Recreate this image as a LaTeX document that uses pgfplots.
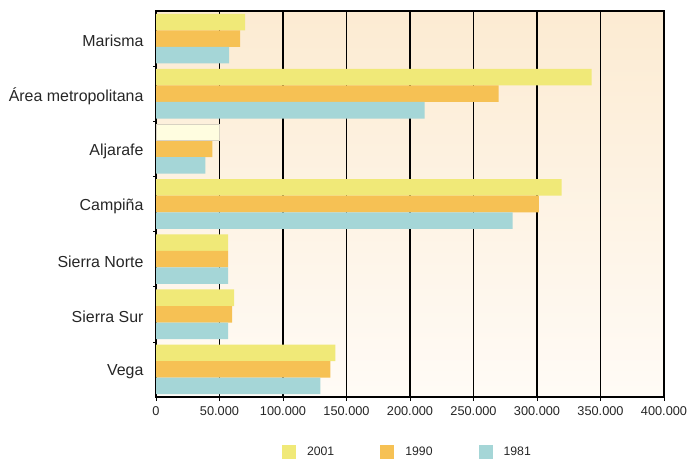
\documentclass[border=0pt]{standalone}
\usepackage{fontspec}
\setmainfont{Liberation Sans}
\usepackage{pgfplots}
\pgfplotsset{compat=1.18}
\usepackage{pgfplotstable}

\definecolor{c2001}{HTML}{F0E978}
\definecolor{c1990}{HTML}{F6C154}
\definecolor{c1981}{HTML}{A5D6D7}
\definecolor{cpale}{HTML}{FFFDE0}
\definecolor{cpaleedge}{HTML}{D8D2C2}
\definecolor{bgtop}{HTML}{FCEBD2}
\definecolor{bgbot}{HTML}{FFFBF6}

\pgfplotstableread{
pos y2001 y1990 y1981
6 70100 66300 57600
5 343000 269700 211500
4 49700 44300 38800
3 319300 301400 280800
2 56800 56800 56800
1 61600 60000 56800
0 141200 137400 129500
}\datatable

\begin{document}
\begin{tikzpicture}
\useasboundingbox (0,0) rectangle (690bp,459bp);
\begin{axis}[
  at={(156bp,62bp)}, anchor=south west,
  scale only axis, width=508bp, height=386bp,
  xbar, bar width=0.3,
  xmin=0, xmax=400000, ymin=-0.5, ymax=6.5,
  xtick={0,50000,100000,150000,200000,250000,300000,350000,400000},
  xticklabels={0,50.000,100.000,150.000,200.000,250.000,300.000,350.000,400.000},
  scaled x ticks=false,
  ytick={0,1,2,3,4,5,6},
  yticklabels={Vega,Sierra Sur,Sierra Norte,Campiña,Aljarafe,Área metropolitana,Marisma},
  minor ytick={0.5,1.5,2.5,3.5,4.5,5.5},
  ytick pos=left, xtick pos=bottom,
  tick align=outside,
  major y tick style={draw=none},
  minor y tick style={black, line width=0.5bp},
  minor tick length=2.5bp,
  major tick length=4bp,
  major x tick style={black, line width=1bp},
  xmajorgrids,
  major x grid style={black, line width=1.2bp},
  axis line style={black, line width=1.6bp},
  axis background/.style={top color=bgtop, bottom color=bgbot},
  yticklabel style={font=\fontsize{16}{18}\selectfont, text=black!85, xshift=-5bp, yshift=-2.5bp},
  xticklabel style={font=\fontsize{12.8}{15}\selectfont, text=black!85, yshift=-2bp},
  legend style={at={(0.493,-0.1425)}, anchor=center, draw=none, fill=none,
    legend columns=-1, font=\fontsize{12.3}{14}\selectfont,
    nodes={inner sep=0pt, text=black!85},
    /tikz/every odd column/.append style={column sep=11bp},
    /tikz/every even column/.append style={column sep=46bp}},
]
\addplot[fill=c2001, draw=none, bar shift=0.3,
  legend image code/.code={\fill[fill=c2001] (0bp,-7bp) rectangle (14bp,7bp);}]
  table[x=y2001, y=pos] {\datatable};
\addplot[fill=c1990, draw=none, bar shift=0,
  legend image code/.code={\fill[fill=c1990] (0bp,-7bp) rectangle (14bp,7bp);}]
  table[x=y1990, y=pos] {\datatable};
\addplot[fill=c1981, draw=none, bar shift=-0.3,
  legend image code/.code={\fill[fill=c1981] (0bp,-7bp) rectangle (14bp,7bp);}]
  table[x=y1981, y=pos] {\datatable};
\addplot[fill=cpale, draw=cpaleedge, line width=0.5bp, bar shift=0.3, forget plot]
  coordinates {(49700,4)};
\legend{2001,1990,1981}
\end{axis}
\end{tikzpicture}
\end{document}
